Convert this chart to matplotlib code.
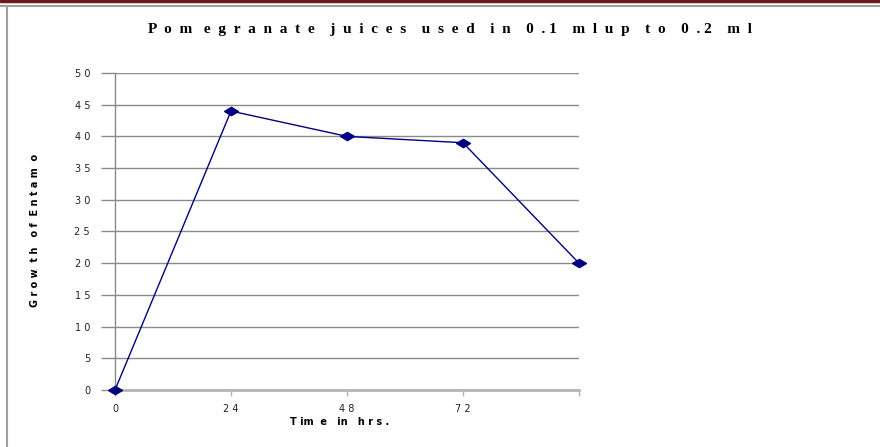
import matplotlib.pyplot as plt
from matplotlib.lines import Line2D

# data
hours = [0, 24, 48, 72, 96]
growth = [0, 44, 40, 39, 20]
xtick_labels = ['0', '2 4', '4 8', '7 2', '']
ytick_vals = [0, 5, 10, 15, 20, 25, 30, 35, 40, 45, 50]

title = "P  o  m   e  g  r  a  n  a  t  e    j  u  i  c  e  s    u  s  e  d    i  n    0  . 1    m  l  u  p    t  o    0  . 2    m  l"
xlabel = "T im  e   in   h r s ."
ylabel = "G r o w  t h   o f  E n t a m  o"

fig = plt.figure(figsize=(8.8, 4.47), dpi=100)
ax = fig.add_axes([115/880, 1-390/447, (579-115)/880, (390-73)/447])

# page decoration: maroon band, grey rule, left border
fig.add_artist(Line2D([0, 1], [1-1/447, 1-1/447], color='#6b1c1c', lw=2.5, transform=fig.transFigure))
fig.add_artist(Line2D([0, 1], [1-5.5/447, 1-5.5/447], color='#a0a0a0', lw=1.5, transform=fig.transFigure))
fig.add_artist(Line2D([6.5/880, 6.5/880], [0, 1-5.5/447], color='#a0a0a0', lw=1.5, transform=fig.transFigure))

diamond = [(-1, 0), (0, 0.6), (1, 0), (0, -0.6), (-1, 0)]
ax.plot(hours, growth, color='#000080', lw=1, marker=diamond, markersize=10,
        markerfacecolor='#000080', markeredgecolor='#000080', clip_on=False, zorder=5)

ax.set_xlim(0, 96)
ax.set_ylim(0, 50)
ax.set_xticks(hours)
ax.set_xticklabels(xtick_labels, fontsize=7, color='#222222')
ax.set_yticks(ytick_vals)
ax.set_yticklabels([' '.join(str(v)) for v in ytick_vals], fontsize=7, color='#222222')

ax.grid(axis='y', color='#8a8a8a', lw=1)
ax.set_axisbelow(True)
for s in ['top', 'right']:
    ax.spines[s].set_visible(False)
ax.spines['left'].set_color('#8a8a8a')
ax.spines['left'].set_linewidth(1)
ax.spines['bottom'].set_color('#b4b4b4')
ax.spines['bottom'].set_linewidth(2)
ax.tick_params(axis='y', length=10, color='#8a8a8a', width=1, pad=8)
ax.tick_params(axis='x', length=4, color='#b4b4b4', width=1, pad=6)

fig.text(450/880, 1-30/447, title, ha='center', va='center', fontsize=11,
         fontweight='bold', family='Liberation Serif')
fig.text(340/880, 1-422/447, xlabel, ha='center', va='center', fontsize=7,
         fontweight='bold')
fig.text(35/880, 1-230/447, ylabel, ha='center', va='center', fontsize=7,
         fontweight='bold', rotation=90)

fig.savefig('out.png', dpi=100)
